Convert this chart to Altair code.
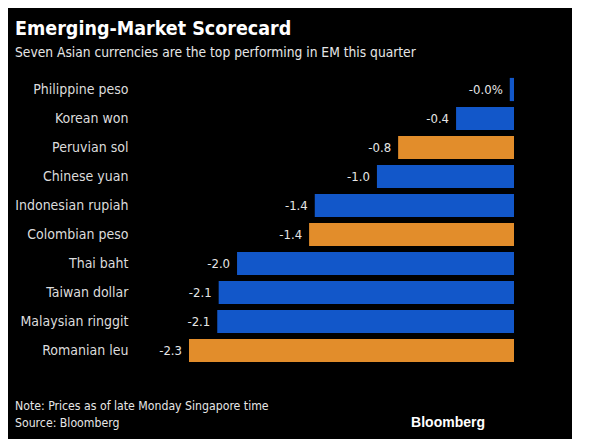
import altair as alt
import pandas as pd

currencies = ["Philippine peso", "Korean won", "Peruvian sol", "Chinese yuan",
              "Indonesian rupiah", "Colombian peso", "Thai baht", "Taiwan dollar",
              "Malaysian ringgit", "Romanian leu"]
changes = [-0.03, -0.41, -0.82, -0.97, -1.41, -1.45, -1.96, -2.09, -2.10, -2.30]
value_labels = ["-0.0%", "-0.4", "-0.8", "-1.0", "-1.4", "-1.4", "-2.0", "-2.1", "-2.1", "-2.3"]
groups = ["Asia", "Asia", "Other", "Asia", "Asia", "Other", "Asia", "Asia", "Asia", "Other"]

title_text = "Emerging-Market Scorecard"
subtitle_text = "Seven Asian currencies are the top performing in EM this quarter"
note_text = "Note: Prices as of late Monday Singapore time"
source_text = "Source: Bloomberg"
brand_text = "Bloomberg"

BLUE = "#1257c9"
ORANGE = "#e28d2b"
FONT = "Liberation Sans Narrow, DejaVu Sans Condensed, Roboto Condensed, Roboto, sans-serif"
BRAND_FONT = "Liberation Sans, Arial, sans-serif"

df = pd.DataFrame({"currency": currencies, "change": changes,
                   "label": value_labels, "group": groups})

y_enc = alt.Y("currency:N", sort=currencies,
              scale=alt.Scale(paddingInner=0.2, paddingOuter=0.1),
              axis=alt.Axis(title=None, domain=False, ticks=False, labelPadding=61,
                            labelFontSize=14, labelColor="#dcdcdc", labelFont=FONT,
                            labelAlign="right"))
x_enc = alt.X("change:Q", scale=alt.Scale(domain=[-2.3, 0], nice=False), axis=None)

bars = alt.Chart(df).mark_bar().encode(
    y=y_enc, x=x_enc,
    color=alt.Color("group:N", scale=alt.Scale(domain=["Asia", "Other"], range=[BLUE, ORANGE]),
                    legend=None),
)
vals = alt.Chart(df).mark_text(align="right", baseline="middle", dx=-7, fontSize=13,
                               font=FONT, color="#e6e6e6").encode(
    y=y_enc, x=x_enc, text="label:N")


def note(txt, x, y, size, bold=False, align="left", color="#e6e6e6", font=FONT):
    return alt.Chart(pd.DataFrame({"t": [txt]})).mark_text(
        align=align, baseline="alphabetic", fontSize=size, font=font,
        fontWeight="bold" if bold else "normal", color=color
    ).encode(x=alt.value(x), y=alt.value(y), text="t:N")


chart = alt.layer(
    bars, vals,
    note(title_text, -174, -40, 19.5, bold=True, color="#ffffff"),
    note(subtitle_text, -174, -18, 13.7),
    note(note_text, -174, 335, 12.2),
    note(source_text, -174, 352, 12.2),
    note(brand_text, 296, 352, 14, bold=True, align="right", color="#ffffff", font=BRAND_FONT),
).properties(
    width=325, height=290,
    padding={"left": 181, "top": 67, "right": 58, "bottom": 74},
    autosize="none",
    background="#000000",
).configure_view(stroke=None)

chart.save("out.html", embed_options={"renderer": "svg", "actions": False})
